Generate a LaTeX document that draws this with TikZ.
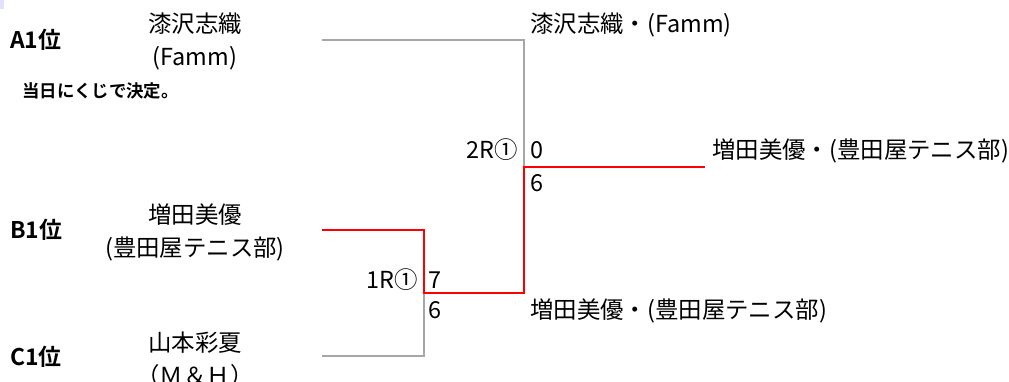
\documentclass[tikz,border=0pt]{standalone}
\usepackage{fontspec}
\setmainfont{Noto Sans CJK JP}[BoldFont={Noto Sans CJK JP Bold}]
\begin{document}
\begin{tikzpicture}[x=1bp,y=-1bp,
  lbl/.style={inner sep=0pt, font=\fontsize{23.5}{28}\selectfont},
  seed/.style={inner sep=0pt, font=\fontsize{23}{28}\selectfont\bfseries},
  note/.style={inner sep=0pt, font=\fontsize{17.5}{22}\selectfont\bfseries},
  loser/.style={draw=black!35, line width=1.4bp},
  winner/.style={draw=red, line width=1.4bp}]
\useasboundingbox (0,0) rectangle (1009,381);
\fill[blue!12] (0,0) rectangle (4,9);
% bracket points
\coordinate (a1) at (322,40);
\coordinate (b1) at (322,230);
\coordinate (c1) at (322,356);
\coordinate (r1) at (424,293);
\coordinate (r2) at (524,167);
\coordinate (fin) at (705,167);
% lines
\draw[loser] (c1) -| (r1);
\draw[loser] (a1) -| (r2);
\draw[winner] (b1) -| (r1) -- (r2 |- r1) -- (r2) -- (fin);
% seeds
\node[seed, anchor=base west] (sA) at (10,48) {A1位};
\node[seed, anchor=base west] (sB) at (10,238) {B1位};
\node[seed, anchor=base west] (sC) at (10,365) {C1位};
\node[note, anchor=base west] (nt) at (22,97) {当日にくじで決定。};
% players
\node[lbl, anchor=base] (pA1) at (195,32) {漆沢志織};
\node[lbl, anchor=base] (pA2) at (195,65) {(Famm)};
\node[lbl, anchor=base] (pB1) at (195,223) {増田美優};
\node[lbl, anchor=base] (pB2) at (195,256) {(豊田屋テニス部)};
\node[lbl, anchor=base] (pC1) at (195,351) {山本彩夏};
\node[lbl, anchor=base] (pC2) at (195,384) {（Ｍ＆Ｈ）};
% round labels and scores
\node[lbl, anchor=base east] (m1) at (418,288) {1R①};
\node[lbl, anchor=base west] (s17) at (428,288) {7};
\node[lbl, anchor=base west] (s16) at (428,318) {6};
\node[lbl, anchor=base east] (m2) at (518,158) {2R①};
\node[lbl, anchor=base west] (s20) at (530,158) {0};
\node[lbl, anchor=base west] (s26) at (530,191) {6};
% results
\node[lbl, anchor=base west] (w1) at (530,318) {増田美優・(豊田屋テニス部)};
\node[lbl, anchor=base west] (w2a) at (530,32) {漆沢志織・(Famm)};
\node[lbl, anchor=base west] (w2) at (712,158) {増田美優・(豊田屋テニス部)};
\end{tikzpicture}
\end{document}
